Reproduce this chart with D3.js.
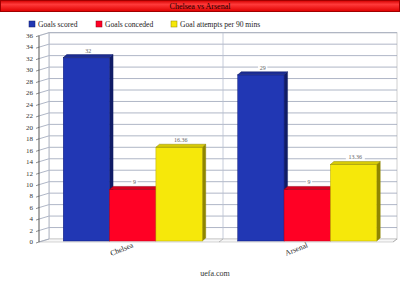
<!DOCTYPE html>
<html>
<head>
<meta charset="utf-8">
<script src="https://cdn.jsdelivr.net/npm/d3@7"></script>
<style>
  body { margin: 0; background: #fff; }
  svg { display: block; font-family: "Liberation Serif", "DejaVu Serif", serif; }
</style>
</head>
<body>
<div id="chart"></div>
<script>
// chart data
const categories = ["Chelsea", "Arsenal"];
const seriesNames = ["Goals scored", "Goals conceded", "Goal attempts per 90 mins"];
const goalsScored = [32, 29];
const goalsConceded = [9, 9];
const goalAttempts = [16.36, 13.36];
const yTicks = [0, 2, 4, 6, 8, 10, 12, 14, 16, 18, 20, 22, 24, 26, 28, 30, 32, 34, 36];

const seriesValues = [goalsScored, goalsConceded, goalAttempts];
const colors = [
    { front: "#2137b4", top: "#1c2d95", side: "#101c66", line: "#0c1a7a" },
    { front: "#ff0024", top: "#d6001e", side: "#8e0014", line: "#c0001a" },
    { front: "#f6e80a", top: "#d8cb06", side: "#8f8600", line: "#b8ac00" }
];

const W = 400, H = 294;
const depthX = 10, depthY = 3;   // wall depth
const barDX = 3.5, barDY = 3;    // bar depth

const svg = d3.select("#chart").append("svg")
    .attr("width", W)
    .attr("height", H);

const defs = svg.append("defs");
const grad = defs.append("linearGradient")
    .attr("id", "titleGrad")
    .attr("x1", 0).attr("y1", 0).attr("x2", 0).attr("y2", 1);
grad.append("stop").attr("offset", "0%").attr("stop-color", "#d40000");
grad.append("stop").attr("offset", "35%").attr("stop-color", "#ff3a3a");
grad.append("stop").attr("offset", "100%").attr("stop-color", "#e00000");

// title bar
svg.append("rect")
    .attr("x", 0.5).attr("y", 0.5)
    .attr("width", W - 1).attr("height", 11)
    .attr("fill", "url(#titleGrad)")
    .attr("stroke", "#a00000")
    .attr("stroke-width", 1);
svg.append("text")
    .attr("x", W / 2).attr("y", 9)
    .attr("text-anchor", "middle")
    .attr("font-size", 8)
    .attr("fill", "#1a0000")
    .text("Chelsea vs Arsenal");

// legend
const legendX = [29, 96, 171];
const legend = svg.append("g").selectAll("g")
    .data(seriesNames)
    .join("g")
    .attr("transform", (d, i) => `translate(${legendX[i]},21)`);
legend.append("rect")
    .attr("width", 6).attr("height", 6)
    .attr("fill", (d, i) => colors[i].front)
    .attr("stroke", (d, i) => colors[i].side)
    .attr("stroke-width", 0.5);
legend.append("text")
    .attr("x", 9).attr("y", 5.5)
    .attr("font-size", 7.6)
    .attr("fill", "#222")
    .text(d => d);

// scales
const y = d3.scaleLinear().domain([0, 36]).range([242, 35.7]);
const backLeft = 49, backRight = 397;
const xBack = d3.scaleBand().domain(categories).range([backLeft, backRight]);
const x0 = d3.scaleBand().domain(categories).range([45.5, 394.5]);
const x1 = d3.scaleBand().domain(seriesNames)
    .range([0, x0.bandwidth()])
    .paddingInner(0)
    .paddingOuter(0.383);

const frontLeft = backLeft - depthX;
const frontRight = backRight - depthX;
const yb = v => y(v) - depthY;

// back wall
const walls = svg.append("g");
walls.append("rect")
    .attr("x", backLeft).attr("y", yb(36))
    .attr("width", backRight - backLeft)
    .attr("height", yb(0) - yb(36))
    .attr("fill", "#fff")
    .attr("stroke", "#d0d0d0");
// left wall
walls.append("path")
    .attr("d", `M${frontLeft},${y(36)}L${backLeft},${yb(36)}L${backLeft},${yb(0)}L${frontLeft},${y(0)}Z`)
    .attr("fill", "#fff")
    .attr("stroke", "#c8c8c8")
    .attr("stroke-width", 0.6);
// floor
walls.append("path")
    .attr("d", `M${frontLeft},${y(0)}L${backLeft},${yb(0)}L${backRight},${yb(0)}L${frontRight + 6},${y(0)}Z`)
    .attr("fill", "#f7f7f7")
    .attr("stroke", "#b8b8b8")
    .attr("stroke-width", 0.6);

// grid lines
const grid = svg.append("g").attr("stroke", "#9aa3b8").attr("stroke-width", 0.8);
grid.selectAll("line.back")
    .data(yTicks.filter(d => d > 0))
    .join("line")
    .attr("class", "back")
    .attr("x1", backLeft).attr("x2", backRight)
    .attr("y1", d => yb(d)).attr("y2", d => yb(d));
grid.selectAll("line.side")
    .data(yTicks)
    .join("line")
    .attr("class", "side")
    .attr("x1", frontLeft).attr("x2", backLeft)
    .attr("y1", d => y(d)).attr("y2", d => yb(d));
// vertical dividers on back wall
svg.append("g").selectAll("line")
    .data([backLeft, xBack("Arsenal")])
    .join("line")
    .attr("x1", d => d).attr("x2", d => d)
    .attr("y1", yb(36)).attr("y2", yb(0))
    .attr("stroke", "#b8bfd0")
    .attr("stroke-width", 0.8);
// floor separators
svg.append("g").selectAll("line")
    .data([xBack("Arsenal"), backRight])
    .join("line")
    .attr("x1", d => d).attr("x2", d => d - 4)
    .attr("y1", yb(0)).attr("y2", y(0))
    .attr("stroke", "#999")
    .attr("stroke-width", 0.6);

// y axis
const axis = svg.append("g");
axis.append("line")
    .attr("x1", frontLeft).attr("x2", frontLeft)
    .attr("y1", y(36)).attr("y2", y(0))
    .attr("stroke", "#444")
    .attr("stroke-width", 0.8);
axis.selectAll("line.tick")
    .data(yTicks)
    .join("line")
    .attr("class", "tick")
    .attr("x1", frontLeft - 3).attr("x2", frontLeft)
    .attr("y1", d => y(d) + 1).attr("y2", d => y(d))
    .attr("stroke", "#444")
    .attr("stroke-width", 0.6);
axis.selectAll("text")
    .data(yTicks)
    .join("text")
    .attr("x", 33)
    .attr("y", d => y(d))
    .attr("dy", "0.33em")
    .attr("text-anchor", "end")
    .attr("font-size", 7)
    .attr("fill", "#333")
    .text(d => d);

// bars
const barData = [];
categories.forEach((c, ci) => {
    seriesNames.forEach((s, si) => {
        barData.push({ cat: c, series: s, si: si, value: seriesValues[si][ci] });
    });
});

const yBar = v => y(v) - 1;
const bars = svg.append("g").selectAll("g")
    .data(barData)
    .join("g");

bars.each(function (d) {
    const g = d3.select(this);
    const c = colors[d.si];
    const bx = x0(d.cat) + x1(d.series);
    const bw = x1.bandwidth();
    const top = yBar(d.value);
    const bottom = yBar(0);
    // side face
    g.append("path")
        .attr("d", `M${bx + bw},${top}L${bx + bw + barDX},${top - barDY}L${bx + bw + barDX},${bottom - barDY}L${bx + bw},${bottom}Z`)
        .attr("fill", c.side)
        .attr("stroke", c.side)
        .attr("stroke-width", 0.4);
    // front face
    g.append("rect")
        .attr("x", bx).attr("y", top)
        .attr("width", bw).attr("height", bottom - top)
        .attr("fill", c.front)
        .attr("stroke", c.line)
        .attr("stroke-width", 0.5);
    // top face
    g.append("path")
        .attr("d", `M${bx},${top}L${bx + barDX},${top - barDY}L${bx + bw + barDX},${top - barDY}L${bx + bw},${top}Z`)
        .attr("fill", c.top)
        .attr("stroke", c.side)
        .attr("stroke-width", 0.5);
});

// value labels
const fmt = v => String(v);
const labels = svg.append("g").selectAll("g")
    .data(barData)
    .join("g")
    .attr("transform", d => {
        const cx = x0(d.cat) + x1(d.series) + x1.bandwidth() / 2 + barDX / 2;
        return `translate(${cx},${yBar(d.value) - barDY - 2})`;
    });
labels.append("rect")
    .attr("x", d => -fmt(d.value).length * 1.6 - 1.5)
    .attr("y", -5)
    .attr("width", d => fmt(d.value).length * 3.2 + 3)
    .attr("height", 6)
    .attr("fill", "#fff")
    .attr("opacity", 0.9);
labels.append("text")
    .attr("text-anchor", "middle")
    .attr("font-size", 6)
    .attr("fill", "#666")
    .text(d => fmt(d.value));

// category labels
svg.append("g").selectAll("text")
    .data(categories)
    .join("text")
    .attr("transform", d => `translate(${x0(d) + x0.bandwidth() / 2 + 1},${247}) rotate(-22)`)
    .attr("text-anchor", "end")
    .attr("font-size", 7.6)
    .attr("fill", "#222")
    .text(d => d);

// source
svg.append("text")
    .attr("x", 215).attr("y", 275.5)
    .attr("text-anchor", "middle")
    .attr("font-size", 8)
    .attr("fill", "#333")
    .text("uefa.com");
</script>
</body>
</html>
